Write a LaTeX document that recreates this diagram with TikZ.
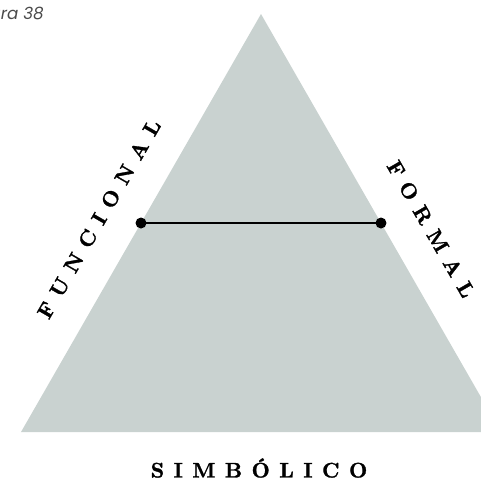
\documentclass[tikz,border=0pt]{standalone}
\usepackage{fontspec}
\setmainfont{Latin Modern Roman}
\newfontfamily\spacedfont[LetterSpace=45, FakeBold=1.4]{lmroman10-bold.otf}
\newfontfamily\captionfont{Poppins}
\usetikzlibrary{calc}
\definecolor{trigray}{HTML}{C9D2D0}
\definecolor{capgray}{HTML}{4A4A4A}

\begin{document}
\begin{tikzpicture}[x=.02cm, y=-.02cm,
          lbl/.style={font=\spacedfont\fontsize{12}{12}\selectfont, inner sep=0pt},
          dot/.style={circle, fill=black, inner sep=0pt, minimum size=.22cm}]
          \clip (0,0) rectangle (481,488);
          \coordinate (top) at (261,14);
          \coordinate (bl) at (21,432);
          \coordinate (br) at (501,432);
          \fill[trigray] (top)--(bl)--(br)--cycle;
          \node[dot] (d1) at ($(top)!.5!(bl)$) {};
          \node[dot] (d2) at ($(top)!.5!(br)$) {};
          \draw[line width=.85pt] (d1.center)--(d2.center);
          \node[lbl, rotate=60] (funcional) at (99,219) {FUNCIONAL};
          \node[lbl, rotate=-60] (formal) at (431,229) {FORMAL};
          \node[lbl] (simbolico) at (259,468) {SIMBÓLICO};
          \node[font=\captionfont\itshape\fontsize{9.5}{10}\selectfont, text=capgray, anchor=base east, inner sep=0pt] (caption) at (44,19) {Figura 38};
        \end{tikzpicture}
\end{document}
